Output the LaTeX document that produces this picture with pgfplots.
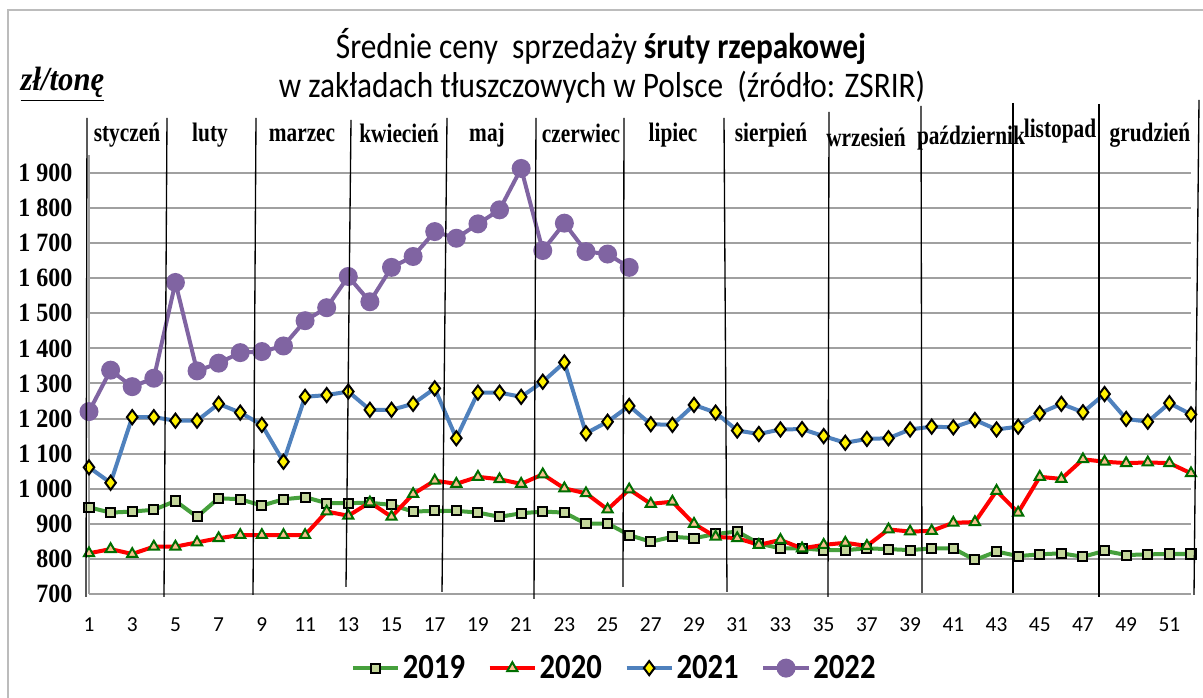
\documentclass[border=0pt]{standalone}
\usepackage{pgfplots}
\pgfplotsset{compat=1.18}
\usepackage{graphicx}
\usepackage{fontspec}
\setmainfont{Carlito}
\newfontfamily\serif{Liberation Serif}
\definecolor{c19}{RGB}{70,160,60}
\definecolor{c19m}{RGB}{196,215,155}
\definecolor{c20}{RGB}{255,0,0}
\definecolor{c20m}{RGB}{250,192,144}
\definecolor{c20b}{RGB}{0,110,0}
\definecolor{c21}{RGB}{79,129,189}
\definecolor{c22}{RGB}{128,100,162}
\definecolor{gridc}{RGB}{160,160,160}
\newcommand{\tall}[1]{\scalebox{1}[1.15]{#1}}
\begin{document}
\begin{tikzpicture}
\useasboundingbox (0,0) rectangle (902.25pt,523.5pt);
\begin{axis}[at={(66.75pt,78pt)}, anchor=south west,
  scale only axis, width=826.5pt, height=328.9pt,
  xmin=1, xmax=52, ymin=700, ymax=1950,
  ytick={700,800,...,1900}, xtick={1,3,...,51},
  ymajorgrids, grid style={gridc, line width=1.5pt},
  axis x line=bottom, axis y line=left,
  axis line style={-},
  x axis line style={draw=none},
  y axis line style={gridc, line width=1.5pt},
  major tick length=0pt,
  /pgf/number format/assume math mode=true,
  /pgf/number format/1000 sep={\ },
  yticklabel style={font=\serif\bfseries\fontsize{18}{18}\selectfont, xshift=-9pt, yscale=1.1},
  xticklabel style={font=\fontsize{16}{16}\selectfont, yshift=-14pt},
  legend style={at={(0.4769,-0.169)}, anchor=center, draw=none, fill=none,
    legend columns=4, font=\bfseries\fontsize{23}{23}\selectfont,
    /tikz/every even column/.append style={column sep=15pt}},
  legend image code/.code={\draw[mark repeat=2,mark phase=2,#1] plot coordinates {(0pt,0pt) (17pt,0pt) (34pt,0pt)};},
  every axis plot/.append style={line width=3pt},
]
\addplot[c19, mark=square*, mark size=3.4pt, mark options={fill=c19m, draw=black, line width=1.5pt}]
coordinates {(1,947)(2,932)(3,935)(4,940)(5,965)(6,920)(7,973)(8,970)(9,952)(10,970)(11,976)(12,959)(13,959)
(14,960)(15,954)(16,935)(17,937)(18,937)(19,932)(20,920)(21,930)(22,935)(23,932)(24,900)(25,901)(26,868)
(27,849)(28,863)(29,859)(30,871)(31,878)(32,844)(33,830)(34,830)(35,825)(36,825)(37,830)(38,828)(39,825)
(40,830)(41,830)(42,797)(43,821)(44,808)(45,813)(46,816)(47,806)(48,823)(49,811)(50,813)(51,814)(52,814)};
\addlegendentry{\tall{2019}}
\addplot[c20, mark=triangle*, mark size=4.4pt, mark options={fill=c20m, draw=c20b, line width=1.5pt}]
coordinates {(1,816)(2,828)(3,814)(4,835)(5,835)(6,847)(7,859)(8,868)(9,868)(10,868)(11,868)(12,935)(13,923)
(14,961)(15,920)(16,985)(17,1023)(18,1014)(19,1034)(20,1027)(21,1014)(22,1041)(23,1001)(24,987)(25,941)(26,998)
(27,957)(28,963)(29,900)(30,863)(31,859)(32,840)(33,854)(34,830)(35,840)(36,846)(37,837)(38,884)(39,878)
(40,880)(41,903)(42,905)(43,994)(44,932)(45,1034)(46,1028)(47,1084)(48,1077)(49,1073)(50,1075)(51,1073)(52,1044)};
\addlegendentry{\tall{2020}}
\addplot[c21, mark=diamond*, mark size=5.3pt, mark options={fill=yellow, draw=black, line width=1.5pt}]
coordinates {(1,1061)(2,1017)(3,1204)(4,1204)(5,1194)(6,1194)(7,1242)(8,1217)(9,1182)(10,1077)(11,1262)(12,1267)(13,1277)
(14,1225)(15,1225)(16,1242)(17,1286)(18,1144)(19,1274)(20,1274)(21,1262)(22,1305)(23,1360)(24,1158)(25,1191)(26,1236)
(27,1184)(28,1182)(29,1239)(30,1217)(31,1166)(32,1156)(33,1169)(34,1170)(35,1150)(36,1131)(37,1142)(38,1144)(39,1169)
(40,1177)(41,1175)(42,1196)(43,1169)(44,1177)(45,1215)(46,1242)(47,1218)(48,1270)(49,1199)(50,1191)(51,1244)(52,1212)};
\addlegendentry{\tall{2021}}
\addplot[c22, mark=*, mark size=5.6pt, mark options={fill=c22, draw=c22}]
coordinates {(1,1220)(2,1338)(3,1291)(4,1315)(5,1588)(6,1336)(7,1358)(8,1388)(9,1391)(10,1407)(11,1479)(12,1516)(13,1605)
(14,1533)(15,1631)(16,1662)(17,1733)(18,1714)(19,1755)(20,1795)(21,1913)(22,1679)(23,1757)(24,1676)(25,1669)(26,1631)};
\addlegendentry{\tall{2022}}
\end{axis}
\begin{scope}[x=0.75pt,y=-0.75pt,shift={(0pt,523.5pt)}]
\draw[gridc!70, line width=1pt] (8,698) -- (8,10) -- (1203,10);
\foreach \xt/\yt/\xb/\yb in {87/118/86/597, 167/118/164/597, 256/118/253/595, 351/120/346/587, 447/118/442/592,
  536/118/534/599, 624/118/623/587, 724/118/727/592, 829/112/828/597, 921/106/922/593, 1013/103/1013/593,
  1099/104/1099/597, 1199/100/1194/595}
  \draw[black, line width=1pt] (\xt,\yt) -- (\xb,\yb);
\begin{scope}[every node/.style={font=\serif\bfseries\fontsize{16}{16}\selectfont, inner sep=0pt, yscale=1.25}]
\node at (127,135) {styczeń};
\node at (210,135) {luty};
\node at (302,135) {marzec};
\node at (399,133) {kwiecień};
\node at (487,135) {maj};
\node at (581,133) {czerwiec};
\node at (673,135) {lipiec};
\node at (771,135) {sierpień};
\node at (866,137) {wrzesień};
\node at (971,138) {październik};
\node at (1060,131) {listopad};
\node at (1150,135) {grudzień};
\end{scope}
\node[font=\fontsize{23.5}{23.5}\selectfont, yscale=1.15] at (601,47) {Średnie ceny\ \ sprzedaży \textbf{śruty rzepakowej}};
\node[font=\fontsize{23.5}{23.5}\selectfont, yscale=1.15] at (602,87) {w zakładach tłuszczowych w Polsce\ \ (źródło: ZSRIR)};
\node[font=\serif\bfseries\itshape\fontsize{23}{23}\selectfont, anchor=west, yscale=1.1] at (16,84) {\underline{zł/tonę}};
\end{scope}
\end{tikzpicture}
\end{document}
